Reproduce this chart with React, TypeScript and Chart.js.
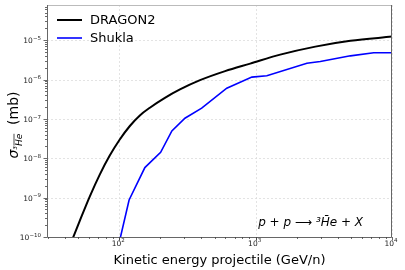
import React, { useEffect, useRef } from "react";
import { Chart, registerables } from "chart.js";

Chart.register(...registerables);

const dragonEnergy = [44, 51.2, 60.7, 71.9, 85.1, 100.8, 119.5, 141.5, 167.6, 216, 278.6, 391, 597, 912, 1514, 2740, 4955, 10000];
const dragonSigma = [6.8e-11, 2.53e-10, 1.064e-9, 3.85e-9, 1.17e-8, 2.99e-8, 6.59e-8, 1.224e-7, 1.92e-7, 3.41e-7, 5.58e-7, 9.6e-7, 1.63e-6, 2.53e-6, 4.28e-6, 6.84e-6, 9.6e-6, 1.23e-5];

const shuklaEnergy = [100, 118, 154, 201, 243, 303, 402, 614, 938, 1208, 2377, 2979, 4955, 7345, 10000];
const shuklaSigma = [7.4e-11, 8.7e-10, 5.8e-9, 1.42e-8, 4.94e-8, 1.04e-7, 1.87e-7, 6.03e-7, 1.15e-6, 1.24e-6, 2.6e-6, 2.86e-6, 3.99e-6, 4.76e-6, 4.76e-6];

const seriesNames = ["DRAGON2", "Shukla"];
const seriesColors = ["#000000", "#0000ff"];
const xTickValues = [100, 1000, 10000];
const xTickExponents = ["2", "3", "4"];
const yTickValues = [1e-10, 1e-9, 1e-8, 1e-7, 1e-6, 1e-5];
const yTickExponents = ["−10", "−9", "−8", "−7", "−6", "−5"];
const xMin = 29.5;
const xMax = 10000;
const yMin = 1e-10;
const yMax = 7.8e-5;
const xTitle = "Kinetic energy projectile (GeV/n)";
const reactionText = "p + p ⟶ ³H̄e + X";

const FONT = "'DejaVu Sans', sans-serif";

function drawPower(ctx: any, exp: string, x: number, baseline: number, align: "center" | "right") {
  ctx.font = `7.5px ${FONT}`;
  const wb = ctx.measureText("10").width;
  ctx.font = `5.5px ${FONT}`;
  const we = ctx.measureText(exp).width;
  const total = wb + we;
  const x0 = align === "center" ? x - total / 2 : x - total;
  ctx.textAlign = "left";
  ctx.textBaseline = "alphabetic";
  ctx.font = `7.5px ${FONT}`;
  ctx.fillText("10", x0, baseline);
  ctx.font = `5.5px ${FONT}`;
  ctx.fillText(exp, x0 + wb, baseline - 3.3);
}

const decorPlugin = {
  id: "decor",
  beforeDatasetsDraw(chart: any) {
    const { ctx, chartArea: a, scales } = chart;
    const xs = scales.x, ys = scales.y;
    ctx.save();
    ctx.strokeStyle = "#dcdcdc";
    ctx.lineWidth = 0.8;
    ctx.setLineDash([2, 2]);
    xTickValues.forEach((v) => {
      const px = Math.round(xs.getPixelForValue(v)) + 0.5;
      ctx.beginPath();
      ctx.moveTo(px, a.top);
      ctx.lineTo(px, a.bottom);
      ctx.stroke();
    });
    yTickValues.forEach((v) => {
      const py = Math.round(ys.getPixelForValue(v)) + 0.5;
      ctx.beginPath();
      ctx.moveTo(a.left, py);
      ctx.lineTo(a.right, py);
      ctx.stroke();
    });
    ctx.restore();
  },
  afterDraw(chart: any) {
    const { ctx, chartArea: a, scales } = chart;
    const xs = scales.x, ys = scales.y;
    ctx.save();
    ctx.setLineDash([]);
    ctx.lineWidth = 1;
    ctx.strokeStyle = "#bbbbbb";
    ctx.beginPath();
    ctx.moveTo(a.left, a.top + 0.5);
    ctx.lineTo(a.right, a.top + 0.5);
    ctx.stroke();
    ctx.strokeStyle = "#666666";
    ctx.beginPath();
    ctx.moveTo(a.left + 0.5, a.top);
    ctx.lineTo(a.left + 0.5, a.bottom + 0.5);
    ctx.lineTo(a.right - 0.5, a.bottom + 0.5);
    ctx.lineTo(a.right - 0.5, a.top);
    ctx.stroke();
    ctx.strokeStyle = "#444444";
    ctx.lineWidth = 0.8;
    for (let d = 10; d <= 1000; d *= 10) {
      for (let k = 1; k <= 10; k++) {
        const v = k * d;
        if (v < xMin || v > xMax) continue;
        const major = k === 1 || k === 10;
        const px = Math.round(xs.getPixelForValue(v)) + 0.5;
        ctx.beginPath();
        ctx.moveTo(px, a.bottom);
        ctx.lineTo(px, a.bottom + (major ? 3.5 : 2));
        ctx.stroke();
      }
    }
    for (let d = 1e-10; d <= 1e-5 * 1.01; d *= 10) {
      for (let k = 1; k <= 9; k++) {
        const v = k * d;
        if (v < yMin * 0.999 || v > yMax) continue;
        const major = k === 1;
        const py = Math.round(ys.getPixelForValue(v)) + 0.5;
        ctx.beginPath();
        ctx.moveTo(a.left, py);
        ctx.lineTo(a.left - (major ? 3.5 : 2), py);
        ctx.stroke();
      }
    }
    ctx.fillStyle = "#222";
    xTickValues.forEach((v, i) => {
      drawPower(ctx, xTickExponents[i], xs.getPixelForValue(v) - 1, a.bottom + 8.5, "center");
    });
    yTickValues.forEach((v, i) => {
      drawPower(ctx, yTickExponents[i], a.left - 6, ys.getPixelForValue(v) + 3, "right");
    });
    ctx.font = `13px ${FONT}`;
    ctx.textBaseline = "middle";
    ctx.textAlign = "left";
    const legY = [20, 38];
    seriesNames.forEach((n, i) => {
      ctx.strokeStyle = seriesColors[i];
      ctx.lineWidth = i === 0 ? 2 : 1.6;
      ctx.beginPath();
      ctx.moveTo(a.left + 10, legY[i]);
      ctx.lineTo(a.left + 35, legY[i]);
      ctx.stroke();
      ctx.fillStyle = "#000";
      ctx.fillText(n, a.left + 43, legY[i] + 1);
    });
    ctx.font = `13px ${FONT}`;
    ctx.textAlign = "center";
    ctx.textBaseline = "alphabetic";
    ctx.fillStyle = "#000";
    ctx.fillText(xTitle, (a.left + a.right) / 2, 264);
    ctx.font = `italic 12px ${FONT}`;
    ctx.textAlign = "right";
    ctx.fillText(reactionText, a.right - 29, 226);
    ctx.translate(13, (a.top + a.bottom) / 2 + 4);
    ctx.rotate(-Math.PI / 2);
    ctx.textAlign = "left";
    ctx.textBaseline = "alphabetic";
    const bigF = `italic 14px ${FONT}`;
    const smallF = `italic 9px ${FONT}`;
    const unitF = `14px ${FONT}`;
    ctx.font = bigF;
    const wS = ctx.measureText("σ").width;
    ctx.font = smallF;
    const w3 = ctx.measureText("³").width;
    const wHe = ctx.measureText("He").width;
    ctx.font = unitF;
    const wU = ctx.measureText("  (mb)").width;
    const total = wS + w3 + wHe + wU;
    let x0 = -total / 2;
    const base = 5;
    ctx.font = bigF;
    ctx.fillText("σ", x0, base);
    x0 += wS;
    ctx.font = smallF;
    ctx.fillText("³", x0, base + 2);
    x0 += w3;
    ctx.fillText("He", x0, base + 4);
    ctx.strokeStyle = "#000";
    ctx.lineWidth = 0.7;
    ctx.beginPath();
    ctx.moveTo(x0 + 0.5, base - 4);
    ctx.lineTo(x0 + wHe, base - 4);
    ctx.stroke();
    x0 += wHe;
    ctx.font = unitF;
    ctx.fillText("  (mb)", x0, base);
    ctx.restore();
  },
};

export default function App() {
  const ref = useRef<HTMLCanvasElement | null>(null);
  useEffect(() => {
    if (!ref.current) return;
    const chart = new Chart(ref.current, {
      type: "line",
      data: {
        datasets: [
          {
            label: seriesNames[0],
            data: dragonEnergy.map((x, i) => ({ x, y: dragonSigma[i] })),
            borderColor: seriesColors[0],
            borderWidth: 2,
            pointRadius: 0,
            cubicInterpolationMode: "monotone",
          },
          {
            label: seriesNames[1],
            data: shuklaEnergy.map((x, i) => ({ x, y: shuklaSigma[i] })),
            borderColor: seriesColors[1],
            borderWidth: 1.6,
            pointRadius: 0,
            tension: 0,
          },
        ],
      },
      options: {
        animation: false,
        responsive: true,
        maintainAspectRatio: false,
        layout: { padding: { top: 5, right: 13, left: 0, bottom: 0 } },
        plugins: { legend: { display: false }, tooltip: { enabled: false } },
        scales: {
          x: {
            type: "logarithmic",
            min: xMin,
            max: xMax,
            grid: { display: false, drawTicks: false },
            border: { display: false },
            afterBuildTicks: (s: any) => {
              s.ticks = xTickValues.map((v) => ({ value: v }));
            },
            afterFit: (s: any) => {
              s.height = 33;
            },
            ticks: { display: false },
          },
          y: {
            type: "logarithmic",
            min: yMin,
            max: yMax,
            grid: { display: false, drawTicks: false },
            border: { display: false },
            afterBuildTicks: (s: any) => {
              s.ticks = yTickValues.map((v) => ({ value: v }));
            },
            afterFit: (s: any) => {
              s.width = 47;
            },
            ticks: { display: false },
          },
        },
      },
      plugins: [decorPlugin],
    } as any);
    return () => chart.destroy();
  }, []);
  return (
    <div style={{ position: "fixed", left: 0, top: 0, width: 405, height: 270, background: "#fff" }}>
      <canvas ref={ref} />
    </div>
  );
}
